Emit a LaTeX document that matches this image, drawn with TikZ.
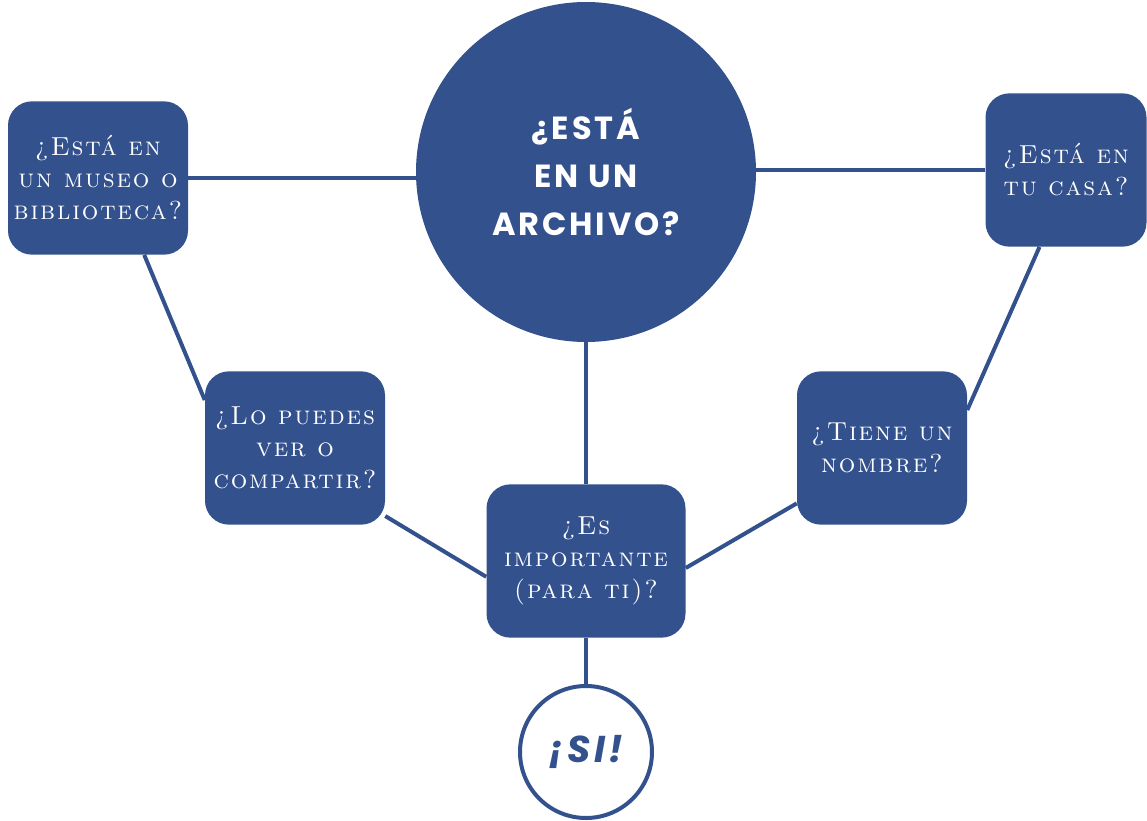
\documentclass[tikz,border=0pt]{standalone}
\usepackage{fontspec}
\usepackage{tikz}
\usetikzlibrary{backgrounds}
\usepackage{xcolor}
\definecolor{Azul}{HTML}{33518C}
\newfontfamily\capsfont{lmromancaps10-regular.otf}[LetterSpace=7]
\newfontfamily\comicfont{Poppins}[LetterSpace=9]
\tikzset{
  pregunta/.style={rounded corners=18pt, fill=Azul, text=white, align=center, inner sep=3pt, minimum height=115pt, font=\capsfont\fontsize{19.5}{24}\selectfont},
  central/.style={circle, fill=Azul, text=white, align=center, inner sep=0pt, minimum size=255pt, font=\comicfont\bfseries\fontsize{24}{36}\selectfont},
  final/.style={circle, draw=Azul, line width=3pt, fill=white, text=Azul, inner sep=0pt, minimum size=99pt, font=\comicfont\bfseries\itshape\fontsize{28}{30}\selectfont},
  enlace/.style={draw=Azul, line width=3pt}
}

\begin{document}
\begin{tikzpicture}[x=0.75pt, y=-0.75pt]
\useasboundingbox (0,0) rectangle (1147,821);
\node[central] (archivo) at (586,172) {¿ESTÁ\\EN UN\\ARCHIVO?};
\node[pregunta, minimum width=135pt] (museo) at (98,178) {¿Está en\\un museo o\\biblioteca?};
\node[pregunta, minimum width=120.75pt] (casa) at (1066,170) {¿Está en\\tu casa?};
\node[pregunta, minimum width=135pt] (ver) at (295,448) {¿Lo puedes\\ver o\\compartir?};
\node[pregunta, minimum width=127.5pt] (nombre) at (882,448) {¿Tiene un\\nombre?};
\node[pregunta, minimum width=149.25pt] (importante) at (586,561) {¿Es\\importante\\(para ti)?};
\node[final] (si) at (586,752) {¡SI!};
\begin{scope}[on background layer]
\foreach \a/\b in {museo/museo -| archivo,casa/casa -| archivo,museo.-59/ver.152,casa.-109/nombre.24,ver.-37/importante.189,importante.-4/nombre.213,archivo.south/importante.north,importante.south/si.north}
  \draw[enlace] (\a) -- (\b);
\end{scope}
\end{tikzpicture}
\end{document}
